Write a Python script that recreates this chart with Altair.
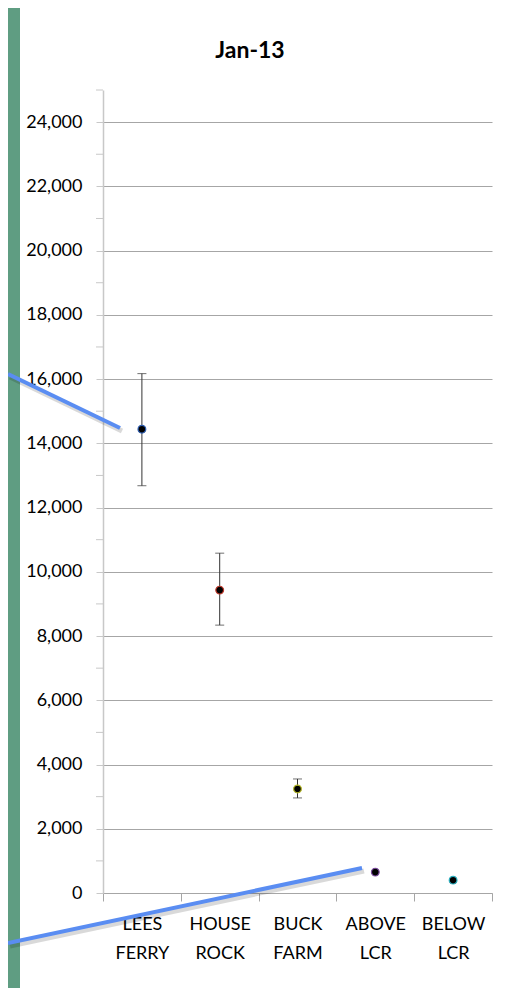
import altair as alt
import pandas as pd

# ---- data ----
sites = ["LEES FERRY", "HOUSE ROCK", "BUCK FARM", "ABOVE LCR", "BELOW LCR"]
estimate = [14440, 9430, 3240, 650, 400]
lower = [12680, 8340, 2960, None, None]
upper = [16170, 10580, 3550, None, None]
y_tick_values = list(range(0, 24001, 2000))
minor_tick_values = list(range(1000, 25001, 2000))
title_text = "Jan-13"

# ---- styles ----
FONT = "Lato"
marker_strokes = ["#2f5fb3", "#c0392b", "#b5b82a", "#7b4a9e", "#2bb0c0"]
GREEN = "#5f9d82"
BLUE = "#5a8df2"
W, H = 389, 803
PAD = {"left": 95, "top": 82, "right": 14, "bottom": 95}

df = pd.DataFrame({"site": sites, "est": estimate, "lo": lower, "hi": upper})
err = df.dropna()
minor = pd.DataFrame({"v": minor_tick_values})
one = pd.DataFrame({"k": [0]})

xscale = alt.Scale(type="band", domain=sites, paddingInner=0, paddingOuter=0)
yscale = alt.Scale(domain=[0, 25000], nice=False, zero=True)

xaxis = alt.Axis(
    title=None, labelExpr="split(datum.label, ' ')", labelFont=FONT, labelFontSize=18,
    labelColor="#000", labelLineHeight=29, labelPadding=14, labelAngle=0,
    tickBand="extent", tickSize=8, tickColor="#a6a6a6", domainColor="#a6a6a6",
    domainWidth=1, grid=False,
)
yaxis = alt.Axis(
    title=None, values=y_tick_values, format=",d", labelFont=FONT, labelFontSize=18,
    labelColor="#000", labelPadding=14, tickSize=7, tickColor="#c8c8c8",
    domainColor="#c8c8c8", domainWidth=1.5, grid=True, gridColor="#a6a6a6", gridWidth=1,
)

bottom = H + PAD["bottom"]
strips = alt.Chart(one).mark_rect(color=GREEN).encode(
    x=alt.value(-95), x2=alt.value(-83), y=alt.value(-82), y2=alt.value(bottom)
)

minor_ticks = alt.Chart(minor).mark_rule(color="#c8c8c8", strokeWidth=1).encode(
    y=alt.Y("v:Q", scale=yscale, axis=yaxis), x=alt.value(-7), x2=alt.value(0)
)

xenc = alt.X("site:N", scale=xscale, axis=xaxis, sort=sites)

bars = alt.Chart(err).mark_rule(color="#333", strokeWidth=1).encode(
    x=xenc, y=alt.Y("lo:Q", scale=yscale, axis=yaxis), y2="hi:Q",
)
cap_lo = alt.Chart(err).mark_tick(color="#333", thickness=1, size=9).encode(
    x=xenc, y=alt.Y("lo:Q", scale=yscale, axis=yaxis),
)
cap_hi = alt.Chart(err).mark_tick(color="#333", thickness=1, size=9).encode(
    x=xenc, y=alt.Y("hi:Q", scale=yscale, axis=yaxis),
)
points = alt.Chart(df).mark_point(filled=False, fill="#000", fillOpacity=1, strokeWidth=1.2,
                                  size=60, shape="circle", opacity=1).encode(
    x=xenc,
    y=alt.Y("est:Q", scale=yscale, axis=yaxis),
    stroke=alt.Stroke("site:N", scale=alt.Scale(domain=sites, range=marker_strokes), legend=None),
)

title = alt.Chart(one).mark_text(font=FONT, fontSize=23, fontWeight="bold", color="#000",
                                 align="center", baseline="alphabetic").encode(
    x=alt.value(147), y=alt.value(-32), text=alt.value(title_text)
)

def callout(x1, y1, x2, y2):
    shadow = alt.Chart(one).mark_rule(color="#000", opacity=0.15, strokeWidth=5).encode(
        x=alt.value(x1 + 2), y=alt.value(y1 + 3), x2=alt.value(x2 + 2), y2=alt.value(y2 + 3))
    line = alt.Chart(one).mark_rule(color=BLUE, strokeWidth=4).encode(
        x=alt.value(x1), y=alt.value(y1), x2=alt.value(x2), y2=alt.value(y2))
    return shadow + line

chart = alt.layer(
    strips, minor_ticks, bars, cap_lo, cap_hi, points, title,
    callout(-95, 284, 17, 338), callout(-95, 853, 259, 778),
).properties(
    width=W, height=H,
    autosize=alt.AutoSizeParams(type="none"),
    padding=PAD,
    background="white",
).configure_view(stroke=None)

chart.save("out.html", embed_options={"renderer": "svg", "actions": False})
